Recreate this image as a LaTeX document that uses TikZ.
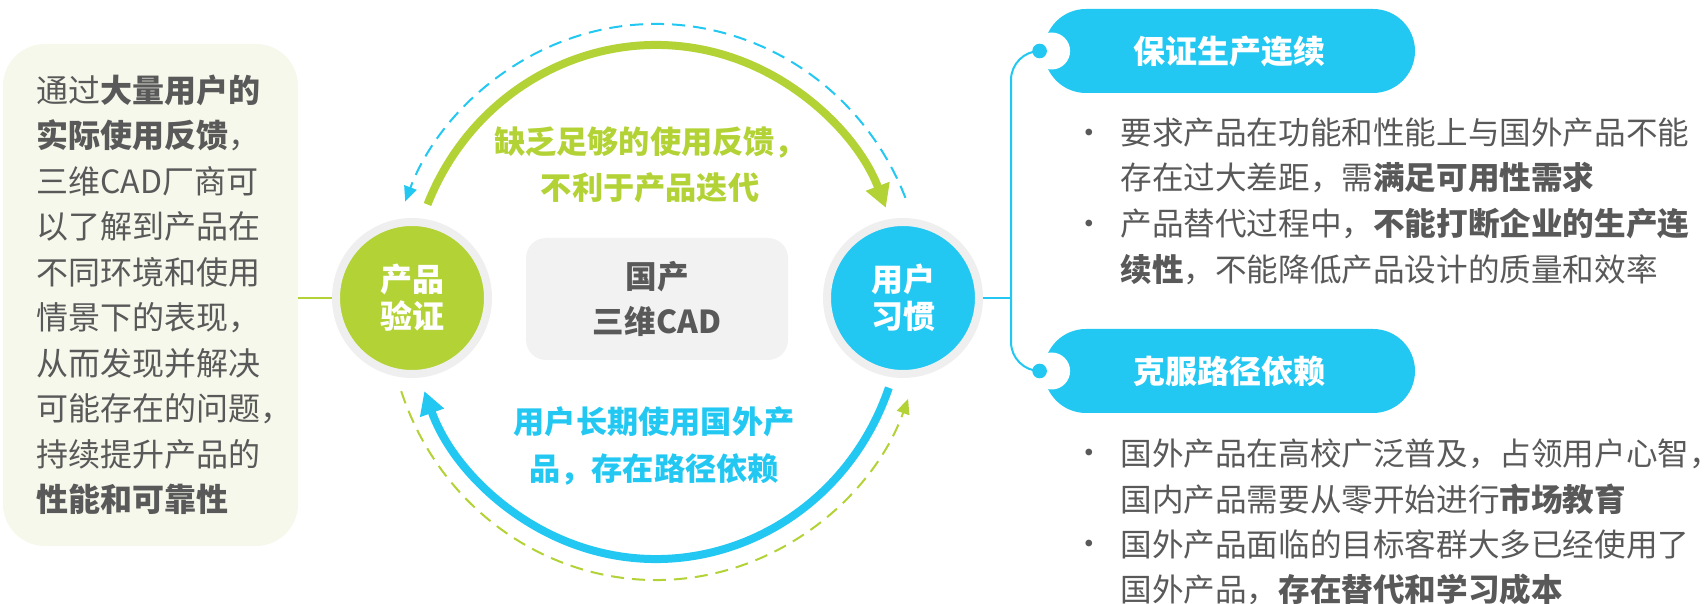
\documentclass[tikz,border=0pt]{standalone}
\usepackage{fontspec}
\setmainfont{Noto Sans CJK SC}
\usepackage{xcolor}
\usepackage{tikz}
\usetikzlibrary{arrows.meta}
\definecolor{cadgreen}{HTML}{B2D235}
\definecolor{cadblue}{HTML}{22C8F2}
\definecolor{huan}{HTML}{EFEFEF}
\definecolor{hui}{HTML}{595959}
\definecolor{zhongbg}{HTML}{F2F2F2}
\definecolor{zuobg}{HTML}{F5F8EB}
\newcommand{\zd}[1]{\textbf{#1}}
\tikzset{
  yuan/.style={circle, draw=huan, line width=4pt, fill=#1, minimum size=76pt, inner sep=0pt, align=center, text=white, font=\fontsize{16pt}{18.5pt}\selectfont\bfseries},
  biaoti/.style={rounded corners=21pt, fill=cadblue, minimum width=185.5pt, minimum height=42pt, inner sep=0pt, text=white, font=\fontsize{16pt}{18pt}\selectfont\bfseries},
  duan/.style={align=left, anchor=west, inner sep=0pt, text=hui, font=\fontsize{15.8pt}{22.75pt}\selectfont},
  dian/.style={inner sep=0pt, text=hui, font=\fontsize{15.8pt}{18pt}\selectfont},
  biaoyu/.style={align=center, inner sep=0pt, text=#1, font=\fontsize{15.6pt}{23.25pt}\selectfont\bfseries},
  jiantou/.style={line width=4pt, -{Triangle[length=11.5pt, width=12pt]}},
  xuxian/.style={line width=1pt, dash pattern=on 6.5pt off 4pt, -{Triangle[length=7.5pt, width=6.5pt]}},
  lianxian/.style={line width=1pt},
}

\begin{document}
\begin{tikzpicture}[x=0.5pt, y=0.5pt]
  \useasboundingbox (0,0) rectangle (1707,604);
  % left box
  \node[fill=zuobg, rounded corners=21pt, minimum width=147.5pt, minimum height=251pt] (zuokuang) at (150.5,309) {};
  \node[duan, font=\fontsize{16pt}{22.75pt}\selectfont] (zuowen) at (36,309) {通过\zd{大量用户的}\\\zd{实际使用反馈}，\\三维CAD厂商可\\以了解到产品在\\不同环境和使用\\情景下的表现，\\从而发现并解决\\可能存在的问题，\\持续提升产品的\\\zd{性能和可靠性}};
  % circles and centre
  \node[yuan=cadgreen] (yanzheng) at (412,306) {产品\\验证};
  \node[yuan=cadblue] (xiguan) at (903,306) {用户\\习惯};
  \node[fill=zhongbg, rounded corners=10pt, minimum width=131pt, minimum height=61pt, inner sep=0pt, align=center, text=hui, font=\fontsize{15.8pt}{22.3pt}\selectfont\bfseries] (cad) at (657,305) {国产\\三维CAD};
  \draw[lianxian, cadgreen] (yanzheng.west) -- (yanzheng.west -| zuokuang.east);
  % arcs
  \coordinate (mid) at (656,302);
  \draw[jiantou, cadgreen] ([shift={(157.7:123.5pt and 128.5pt)}]mid) arc[start angle=157.7, end angle=21.5, x radius=123.5pt, y radius=128.5pt];
  \draw[jiantou, cadblue] ([shift={(-19.5:123.5pt and 128.5pt)}]mid) arc[start angle=-19.5, end angle=-159.7, x radius=123.5pt, y radius=128.5pt];
  \draw[xuxian, cadblue] ([shift={(22:134.5pt and 139pt)}]mid) arc[start angle=22, end angle=158.8, x radius=134.5pt, y radius=139pt];
  \draw[xuxian, cadgreen] ([shift={(198.7:134.5pt and 139pt)}]mid) arc[start angle=198.7, end angle=339.6, x radius=134.5pt, y radius=139pt];
  \node[biaoyu=cadgreen] (quefa) at (650,439) {缺乏足够的使用反馈，\\不利于产品迭代};
  \node[biaoyu=cadblue] (yilai) at (654,158) {用户长期使用国外产\\品，存在路径依赖};
  % right headings
  \coordinate (gui) at (1011,306);
  \node[biaoti] (baozheng) at (1229.5,553) {保证生产连续};
  \node[biaoti] (kefu) at (1229.5,233) {克服路径依赖};
  \node[circle, fill=white, minimum size=18.5pt, inner sep=0pt] (kou1) at ([xshift=4pt]baozheng.west) {};
  \node[circle, fill=white, minimum size=18.5pt, inner sep=0pt] (kou2) at ([xshift=4pt]kefu.west) {};
  \node[circle, fill=cadblue, minimum size=7.3pt, inner sep=0pt] (dian1) at ([xshift=-2pt]baozheng.west) {};
  \node[circle, fill=cadblue, minimum size=7.3pt, inner sep=0pt] (dian2) at ([xshift=-2pt]kefu.west) {};
  \draw[lianxian, cadblue, rounded corners=14.5pt] (dian1.center) -- (dian1.center -| gui) -- (dian2.center -| gui) -- (dian2.center);
  \draw[lianxian, cadblue] (xiguan.east) -- (xiguan.east -| gui);
  % bullets
  \node[dian] (d11) at (1089,467) {•};
  \node[duan] (t11) at (1120,448.5) {要求产品在功能和性能上与国外产品不能\\存在过大差距，需\zd{满足可用性需求}};
  \node[dian] (d12) at (1089,376) {•};
  \node[duan] (t12) at (1120,357.5) {产品替代过程中，\zd{不能打断企业的生产连}\\\zd{续性}，不能降低产品设计的质量和效率};
  \node[dian] (d21) at (1089,147) {•};
  \node[duan] (t21) at (1120,127.5) {国外产品在高校广泛普及，占领用户心智，\\国内产品需要从零开始进行\zd{市场教育}};
  \node[dian] (d22) at (1089,56) {•};
  \node[duan] (t22) at (1120,36.5) {国外产品面临的目标客群大多已经使用了\\国外产品，\zd{存在替代和学习成本}};
\end{tikzpicture}
\end{document}
